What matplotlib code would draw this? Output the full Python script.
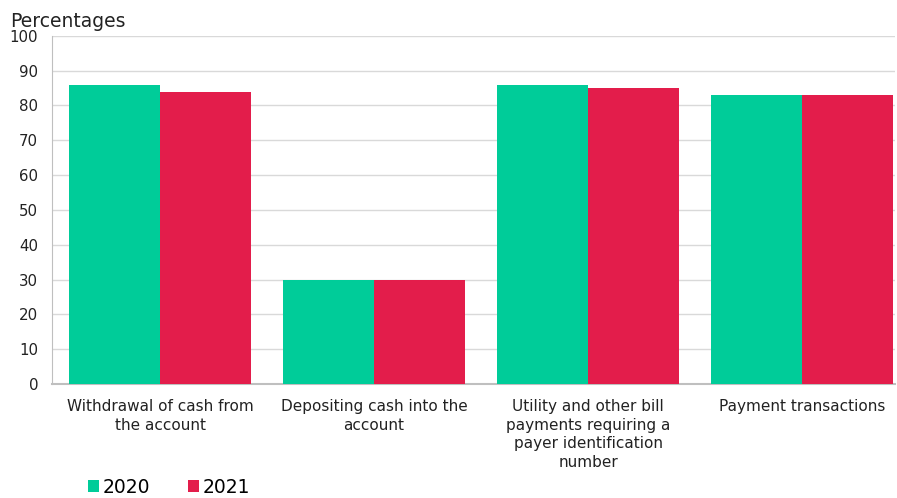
import matplotlib.pyplot as plt
import numpy as np

categories = [
    "Withdrawal of cash from\nthe account",
    "Depositing cash into the\naccount",
    "Utility and other bill\npayments requiring a\npayer identification\nnumber",
    "Payment transactions",
]
years = ["2020", "2021"]
values_2020 = [86, 30, 86, 83]
values_2021 = [84, 30, 85, 83]
colors = ["#00CC99", "#E31D4B"]

fig = plt.figure(figsize=(8.97, 4.98), dpi=100)
ax = fig.add_axes([0.058, 0.229, 0.940, 0.699])

x = np.arange(len(categories))
w = 0.426
ax.bar(x - w / 2, values_2020, width=w, color=colors[0], label=years[0], zorder=3)
ax.bar(x + w / 2, values_2021, width=w, color=colors[1], label=years[1], zorder=3)

ax.set_xlim(-0.505, 3.435)
ax.set_ylim(0, 100)
ax.set_yticks(range(0, 101, 10))
ax.set_xticks(x)
ax.set_xticklabels(categories, fontsize=11, color="#222222", va="top", linespacing=1.3)
ax.tick_params(axis="y", labelsize=10.8, length=0, pad=10, colors="#222222")
ax.tick_params(axis="x", length=0, pad=11)
ax.grid(axis="y", color="#D9D9D9", linewidth=1, zorder=0)
for s in ["top", "right"]:
    ax.spines[s].set_visible(False)
ax.spines["left"].set_color("#BFBFBF")
ax.spines["bottom"].set_color("#BFBFBF")
ax.spines["bottom"].set_linewidth(1.5)

fig.text(0.011, 0.945, "Percentages", fontsize=13.5, color="#222222")

fig.legend(loc="lower left", bbox_to_anchor=(0.079, -0.032), ncol=2, frameon=False,
           fontsize=13.5, handlelength=0.6, handleheight=0.6, handletextpad=0.2,
           columnspacing=2.0)

fig.savefig("out.png", dpi=100)
